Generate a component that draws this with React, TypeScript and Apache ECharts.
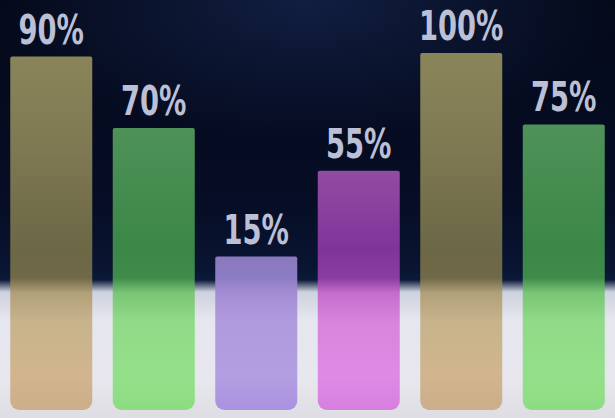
import React, { useEffect, useRef } from "react";
import * as echarts from "echarts";

// Category order (left to right) and the percentage text shown above each bar
const categories = ["A", "B", "C", "D", "E", "F"];
const labelValues = [90, 70, 15, 55, 100, 75];
// Bar lengths, relative to the tallest bar (= 100)
const barLevels = [99, 79, 43, 67, 100, 80];
// Colour family of each bar
const barColorKeys = ["tan", "green", "purple", "magenta", "tan", "green"];

const H = 418;

const palettes: Record<string, [number, string][]> = {
  tan: [
    [50, "#8a8559"],
    [150, "#7e7952"],
    [250, "#6c6745"],
    [278, "#706948"],
    [293, "#b2a07a"],
    [322, "#c7b48c"],
    [376, "#d2b58e"],
    [418, "#caad89"],
  ],
  green: [
    [120, "#509259"],
    [250, "#3b8747"],
    [278, "#408b4b"],
    [293, "#7ac676"],
    [322, "#91da88"],
    [376, "#94e08a"],
    [418, "#8bdb80"],
  ],
  purple: [
    [250, "#8a78bc"],
    [278, "#8c7cc4"],
    [293, "#a58dd5"],
    [322, "#b09ade"],
    [376, "#b39ee2"],
    [418, "#a78fdf"],
  ],
  magenta: [
    [165, "#934da3"],
    [250, "#7f349a"],
    [278, "#8a3da0"],
    [293, "#c56dcd"],
    [322, "#d884dc"],
    [376, "#df8ae6"],
    [418, "#d57ddd"],
  ],
};

function gradientFor(key: string) {
  const stops = palettes[key].map(([y, color]) => ({ offset: y / H, color }));
  return new echarts.graphic.LinearGradient(0, 0, 0, H, stops, true);
}

export default function App() {
  const ref = useRef<HTMLDivElement>(null);

  useEffect(() => {
    if (!ref.current) return;
    const chart = echarts.init(ref.current, undefined, { renderer: "svg" });
    chart.setOption({
      animation: false,
      backgroundColor: "transparent",
      grid: { left: 0, right: 0, top: 53, bottom: 8 },
      xAxis: {
        type: "category",
        data: categories,
        show: false,
      },
      yAxis: {
        type: "value",
        min: 0,
        max: 100,
        show: false,
      },
      series: [
        {
          type: "bar",
          barWidth: 82,
          data: barLevels.map((v, i) => ({
            value: v,
            itemStyle: {
              color: gradientFor(barColorKeys[i]),
              borderRadius: [2, 2, 9, 9],
            },
          })),
        },
        {
          type: "custom",
          clip: false,
          z: 5,
          data: barLevels.map((v, i) => [i, v, labelValues[i]]),
          renderItem: (params: any, api: any) => {
            const pt = api.coord([api.value(0), api.value(1)]);
            return {
              type: "text",
              x: pt[0],
              y: pt[1] - 7,
              scaleX: 0.76,
              style: {
                text: `${api.value(2)}%`,
                fill: "#bcc0d6",
                fontSize: 40,
                fontWeight: "bold",
                fontFamily: "'DejaVu Sans Condensed', 'DejaVu Sans', sans-serif",
                align: "center",
                verticalAlign: "bottom",
                shadowColor: "rgba(190,195,225,0.4)",
                shadowBlur: 4,
              },
            };
          },
        },
      ],
    });
    return () => chart.dispose();
  }, []);

  return (
    <div
      style={{
        position: "fixed",
        left: 0,
        top: 0,
        width: 615,
        height: 418,
        background:
          "radial-gradient(ellipse 320px 140px at 50% 0%, rgba(28,48,98,0.55), rgba(5,10,30,0) 100%)," +
          "linear-gradient(to bottom, #040919 0px, #060d25 200px, #091532 270px, #0c1a3a 280px, #cdd2de 292px, #e6e6ee 320px, #e8e7ee 380px, #dedde4 418px)",
      }}
    >
      <div ref={ref} style={{ width: 615, height: 418 }} />
    </div>
  );
}
